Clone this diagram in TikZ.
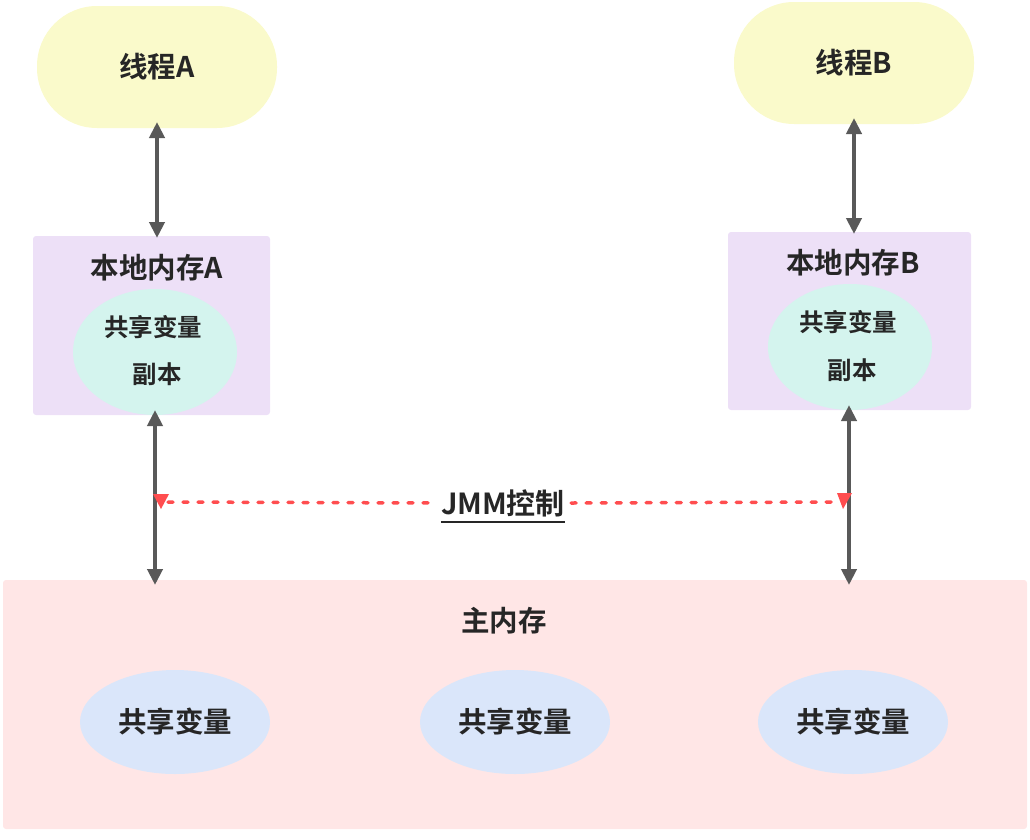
\documentclass[tikz,border=0pt]{standalone}
\usepackage{fontspec}
\setmainfont{Noto Sans CJK SC}[BoldFont={Noto Sans CJK SC Bold}]
\usetikzlibrary{arrows.meta,shapes.geometric}
\definecolor{thr}{HTML}{FAFACB}
\definecolor{loc}{HTML}{EDE0F7}
\definecolor{cpy}{HTML}{D4F4EE}
\definecolor{mainc}{HTML}{FFE6E6}
\definecolor{shv}{HTML}{DAE6FA}
\definecolor{arr}{HTML}{595959}
\definecolor{txt}{HTML}{262626}
\definecolor{jmm}{HTML}{FF4D4F}
\tikzset{
  thread/.style={draw=none,fill=thr,rounded corners=60pt,minimum width=240pt,minimum height=122pt,inner sep=0pt},
  localbox/.style={draw=none,fill=loc,rounded corners=3pt,inner sep=0pt},
  copyell/.style={ellipse,draw=none,fill=cpy,minimum width=164pt,minimum height=126pt,inner sep=0pt},
  shvell/.style={ellipse,draw=none,fill=shv,minimum width=190pt,minimum height=104pt,inner sep=0pt},
  lbl/.style={text=txt,font=\bfseries\fontsize{28.5pt}{32pt}\selectfont,inner sep=0pt},
  slbl/.style={text=txt,font=\bfseries\fontsize{24.5pt}{28pt}\selectfont,inner sep=0pt},
  biarrow/.style={draw=arr,line width=4pt,{Triangle[length=16pt,width=15pt]}-{Triangle[length=16pt,width=15pt]},shorten <=-1pt,shorten >=-1pt},
  ctrl/.style={draw=jmm,line width=3.5pt,dash pattern=on 5pt off 10pt,line cap=round},
  tri/.style={fill=jmm,draw=none}
}
\begin{document}
\begin{tikzpicture}[x=1pt,y=-1pt]
\useasboundingbox (0,0) rectangle (1030,839);
% threads
\node[thread] (ta) at (157,67) {};
\node[lbl] (tal) at (157,67) {线程A};
\node[thread] (tb) at (854,63) {};
\node[lbl] (tbl) at (854,63) {线程B};
% local memories
\node[localbox,minimum width=237pt,minimum height=179pt] (la) at (151.5,325.5) {};
\node[lbl] (lat) at (157,268) {本地内存A};
\node[copyell] (ca) at (155,352) {};
\node[slbl] (ca1) at (153,327) {共享变量};
\node[slbl] (ca2) at (157,374) {副本};
\node[localbox,minimum width=243pt,minimum height=178pt] (lb) at (849.5,321) {};
\node[lbl] (lbt) at (853,263) {本地内存B};
\node[copyell] (cb) at (850,347) {};
\node[slbl] (cb1) at (848,322) {共享变量};
\node[slbl] (cb2) at (852,370) {副本};
% main memory
\node[localbox,fill=mainc,minimum width=1024pt,minimum height=249pt] (mm) at (515,704.5) {};
\node[lbl] (mmt) at (504,621) {主内存};
\node[shvell] (s1) at (175,722) {};
\node[lbl] (s1l) at (175,722) {共享变量};
\node[shvell] (s2) at (515,722) {};
\node[lbl] (s2l) at (515,722) {共享变量};
\node[shvell] (s3) at (853,722) {};
\node[lbl] (s3l) at (853,722) {共享变量};
% coordinates for connectors
\coordinate (a1) at (157,123);
\coordinate (a2) at (157,237);
\coordinate (b1) at (854,119);
\coordinate (b2) at (854,233);
\coordinate (a3) at (155,411);
\coordinate (a4) at (155,584);
\coordinate (b3) at (849,406);
\coordinate (b4) at (849,584);
\draw[biarrow] (a1) -- (a2);
\draw[biarrow] (b1) -- (b2);
\draw[biarrow] (a3) -- (a4);
\draw[biarrow] (b3) -- (b4);
% JMM control
\coordinate (ja) at (168,502);
\coordinate (jb) at (837,502);
\node[text=txt,font=\bfseries\fontsize{29pt}{32pt}\selectfont,fill=white,inner xsep=6pt,inner ysep=2pt] (jl) at (503,503) {JMM控制};
\draw[txt,line width=2.5pt] ([xshift=6pt,yshift=-3pt]jl.south west) -- ([xshift=-6pt,yshift=-3pt]jl.south east);
\draw[ctrl] (ja) -- (jl.west);
\draw[ctrl] (jl.east) -- (jb);
\fill[tri] (153,494) -- (169,494) -- (161,509) -- cycle;
\fill[tri] (837,493) -- (852,493) -- (843,509) -- cycle;
\end{tikzpicture}
\end{document}
